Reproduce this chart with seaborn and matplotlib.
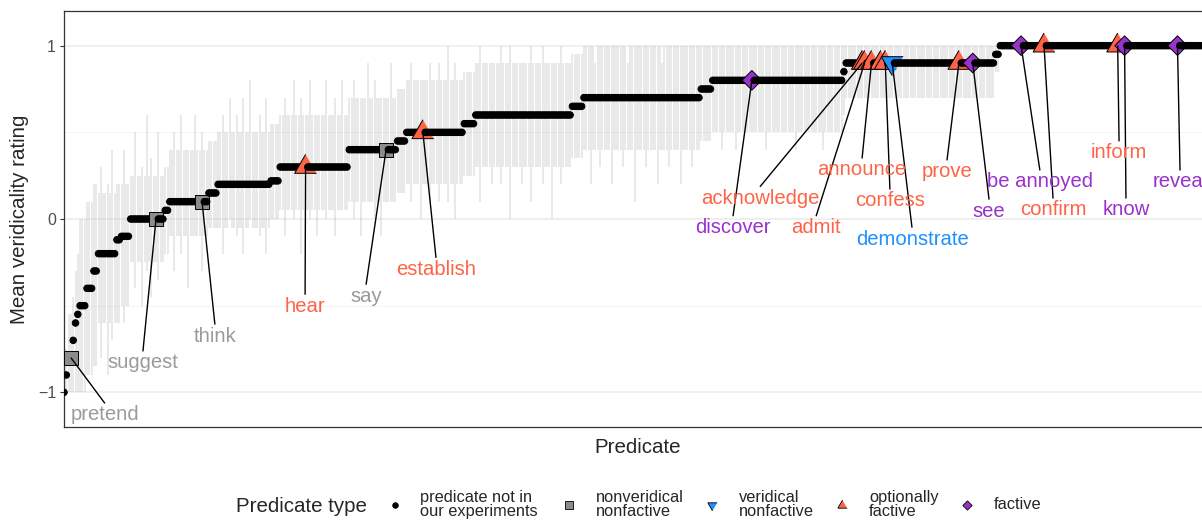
import numpy as np
import pandas as pd
import matplotlib
matplotlib.use("Agg")
import matplotlib.pyplot as plt
import seaborn as sns

# ---------------------------------------------------------------------------
# Mean veridicality ratings of all predicates, sorted along the x axis.
# Stored as runs of predicates sharing the same mean, with the typical
# confidence interval of each run.
# ---------------------------------------------------------------------------
run_mean = [-1.0, -0.9, -0.8, -0.7, -0.6, -0.55, -0.5, -0.4, -0.3, -0.2,
            -0.12, -0.1, 0.0, 0.05, 0.1, 0.15, 0.2, 0.22, 0.3, 0.4,
            0.45, 0.5, 0.55, 0.6, 0.65, 0.7, 0.75, 0.8, 0.85, 0.9,
            0.95, 1.0]
run_count = [1, 1, 2, 1, 1, 1, 3, 3, 2, 8,
             2, 4, 15, 2, 17, 4, 23, 4, 30, 21,
             4, 25, 5, 42, 5, 51, 5, 57, 1, 65,
             2, 93]
run_ci_low = [-1.0, -1.0, -1.0, -1.0, -1.0, -1.0, -1.0, -0.9, -0.85, -0.6,
              -0.6, -0.5, -0.25, -0.2, -0.1, -0.05, -0.05, 0.0, 0.05, 0.1,
              0.15, 0.2, 0.25, 0.3, 0.35, 0.4, 0.45, 0.5, 0.6, 0.7,
              0.85, 1.0]
run_ci_high = [-0.9, -0.75, -0.55, -0.45, -0.3, -0.2, 0.0, 0.1, 0.2, 0.15,
               0.2, 0.2, 0.25, 0.3, 0.4, 0.45, 0.5, 0.55, 0.6, 0.7,
               0.75, 0.8, 0.85, 0.9, 0.95, 1.0, 1.0, 1.0, 1.0, 1.0,
               1.0, 1.0]

# Predicates whose interval differs from the typical one of their run
spike_rank = [16, 19, 21, 26, 31, 34, 36, 38, 41, 48, 51, 54, 57, 60,
              69, 72, 75, 78, 81, 85, 88, 96, 100, 103, 107, 110, 114, 118, 121,
              126, 129, 132, 135, 138, 142, 151, 155, 159, 163, 167, 170,
              181, 186, 190, 194, 199, 203, 208, 212, 216,
              229, 231, 233, 238, 243, 245, 248, 253, 258, 260, 263, 268, 273,
              286, 292, 305, 318, 330]
spike_low = [-0.8, -0.9, -0.7, -0.6, -0.4, -0.5, -0.3, -0.45, -0.35, -0.3, -0.2, -0.4, -0.1, -0.3,
             -0.2, 0.0, -0.1, -0.2, 0.0, -0.1, -0.2, -0.1, 0.0, -0.2, 0.0, -0.1, 0.0, -0.1, 0.05,
             0.0, -0.1, 0.1, 0.0, -0.1, 0.1, 0.1, 0.0, 0.1, 0.1, 0.1, 0.0,
             0.1, 0.2, 0.2, 0.0, 0.2, 0.1, 0.2, 0.0, 0.2,
             0.2, 0.4, 0.3, 0.2, 0.3, 0.4, 0.1, 0.3, 0.2, 0.4, 0.3, 0.2, 0.3,
             0.4, 0.4, 0.4, 0.4, 0.4]
spike_high = [0.3, 0.2, 0.4, 0.4, 0.5, 0.3, 0.6, 0.35, 0.5, 0.5, 0.6, 0.4, 0.6, 0.5,
              0.6, 0.7, 0.6, 0.7, 0.8, 0.6, 0.7, 0.7, 0.8, 0.7, 0.8, 0.6, 0.8, 0.7, 0.8,
              0.8, 0.7, 0.9, 0.8, 0.7, 0.9, 0.9, 0.8, 0.9, 0.9, 1.0, 0.9,
              1.0, 0.9, 1.0, 1.0, 0.9, 1.0, 1.0, 0.9, 1.0,
              1.0, 0.9, 1.0, 1.0, 1.0, 0.9, 1.0, 1.0, 1.0, 0.9, 1.0, 1.0, 1.0,
              1.0, 1.0, 1.0, 1.0, 1.0]

# Predicates used in the experiments: name, type and rank on the x axis
exp_predicate = ["pretend", "suggest", "think", "hear", "say", "establish",
                 "discover", "acknowledge", "admit", "announce", "",
                 "confess", "demonstrate", "prove", "see", "be annoyed",
                 "confirm", "inform", "know", "reveal"]
exp_type = ["nonveridical\nnonfactive", "nonveridical\nnonfactive",
            "nonveridical\nnonfactive", "optionally\nfactive",
            "nonveridical\nnonfactive", "optionally\nfactive", "factive",
            "optionally\nfactive", "optionally\nfactive", "optionally\nfactive",
            "optionally\nfactive", "optionally\nfactive", "veridical\nnonfactive",
            "optionally\nfactive", "factive", "factive", "optionally\nfactive",
            "optionally\nfactive", "factive", "factive"]
exp_rank = [3, 40, 60, 105, 140, 156, 299, 347, 348, 351, 355,
            357, 360, 389, 395, 416, 426, 458, 461, 484]

type_levels = ["predicate not in\nour experiments", "nonveridical\nnonfactive",
               "veridical\nnonfactive", "optionally\nfactive", "factive"]

# ---------------------------------------------------------------------------
# Styling
# ---------------------------------------------------------------------------
sns.set_style("white")
plt.rcParams["font.family"] = ["Liberation Sans", "DejaVu Sans"]

palette = {type_levels[0]: "black", type_levels[1]: "#8C8C8C",
           type_levels[2]: "#1E90FF", type_levels[3]: "#FF6347",
           type_levels[4]: "#9932CC"}
label_colour = {type_levels[1]: "#9A9A9A", type_levels[2]: "#1E90FF",
                type_levels[3]: "#FF6347", type_levels[4]: "#9932CC"}
tri_up = [(0.0, 1.0), (-0.866, -0.5), (0.866, -0.5)]
tri_down = [(0.0, -1.0), (-0.866, 0.5), (0.866, 0.5)]
markers = {type_levels[0]: "o", type_levels[1]: "s", type_levels[2]: tri_down,
           type_levels[3]: tri_up, type_levels[4]: "D"}
sizes = {type_levels[0]: 22, type_levels[1]: 100, type_levels[2]: 330,
         type_levels[3]: 330, type_levels[4]: 100}

# label placement (x rank, y rating) for the annotated predicates
label_pos = [(17.8, -1.13), (34.3, -0.83), (65.6, -0.675), (104.8, -0.503),
             (131.3, -0.445), (161.7, -0.29), (290.8, -0.05), (302.5, 0.12),
             (326.9, -0.05), (346.9, 0.283), None, (359.0, 0.104),
             (368.6, -0.116), (383.8, 0.272), (402.1, 0.046), (424.2, 0.214),
             (429.9, 0.052), (458.6, 0.382), (461.6, 0.052), (485.1, 0.214)]

# ---------------------------------------------------------------------------
# Data frame
# ---------------------------------------------------------------------------
mean = np.repeat(run_mean, run_count)
lo = np.repeat(run_ci_low, run_count)
hi = np.repeat(run_ci_high, run_count)
lo[spike_rank] = spike_low
hi[spike_rank] = spike_high
n = len(mean)
df = pd.DataFrame({"rank": np.arange(n), "mean": mean, "lo": lo, "hi": hi,
                   "type": type_levels[0]})
for r, t in zip(exp_rank, exp_type):
    df.loc[r, "type"] = t

# ---------------------------------------------------------------------------
# Figure
# ---------------------------------------------------------------------------
W, H = 1202, 520
fig = plt.figure(figsize=(W / 100, H / 100), dpi=100)
ax = fig.add_axes([64 / W, 1 - 427 / H, 1148 / W, 416 / H])

ax.vlines(df["rank"], df["lo"], df["hi"], color="#aaaaaa", alpha=0.32,
          lw=1.15, zorder=1)
sns.scatterplot(data=df, x="rank", y="mean", hue="type", style="type",
                size="type", hue_order=type_levels, style_order=type_levels,
                size_order=type_levels, palette=palette, markers=markers,
                sizes=sizes, edgecolor="black", linewidth=0.7, legend=False,
                ax=ax, zorder=3)

for name, t, r, pos in zip(exp_predicate, exp_type, exp_rank, label_pos):
    if pos is None:
        continue
    lx, ly = pos
    ax.plot([r, lx], [mean[r], ly + 0.066], color="black", lw=1.0, zorder=4,
            solid_capstyle="butt")
    ax.text(lx, ly, name, ha="center", va="center", fontsize=14.6,
            color=label_colour[t], zorder=5, clip_on=False)

ax.set_xlim(0, n - 1)
ax.set_ylim(-1.2, 1.2)
ax.set_xticks([])
ax.set_yticks([-1, 0, 1])
ax.set_yticklabels(["\u22121", "0", "1"])
ax.set_yticks([-0.5, 0.5], minor=True)
ax.tick_params(axis="y", which="major", length=3.2, width=0.8, color="#333333",
               labelsize=11.5, labelcolor="#4D4D4D", pad=2.5, left=True)
ax.tick_params(axis="y", which="minor", length=0)
ax.grid(axis="y", which="major", color="#EBEBEB", lw=1.1)
ax.grid(axis="y", which="minor", color="#F2F2F2", lw=0.6)
ax.grid(axis="x", visible=False)
ax.set_axisbelow(True)
for s in ax.spines.values():
    s.set_color("#333333")
    s.set_linewidth(0.9)
ax.set_xlabel("Predicate", fontsize=14.8, labelpad=8)
ax.set_ylabel("Mean veridicality rating", fontsize=14.8, labelpad=6)

# Legend along the bottom
lg = fig.add_axes([0, 0, 1, 1], facecolor="none")
lg.set_xlim(0, W)
lg.set_ylim(H, 0)
lg.axis("off")
lg.text(301, 507, "Predicate type", ha="center", va="center", fontsize=14.8)
key_x = [395, 569, 712, 842, 967]
key_s = [16, 30, 60, 60, 22]
text_x = [420, 596, 739, 869, 994]
for lvl, kx, ks, tx in zip(type_levels, key_x, key_s, text_x):
    lg.scatter([kx], [505], s=ks, marker=markers[lvl], color=palette[lvl],
               edgecolor="black", linewidth=0.6)
    lg.text(tx, 504.5, lvl, ha="left", va="center", fontsize=11.8,
            linespacing=0.92)

fig.savefig("out.png", dpi=100)
